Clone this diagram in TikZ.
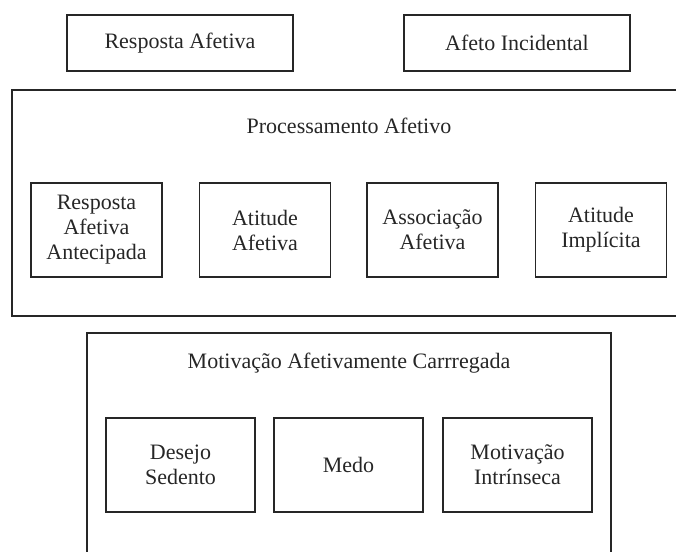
\documentclass[tikz,border=0pt]{standalone}
\usepackage{fontspec}
\setmainfont{Liberation Serif}
\usetikzlibrary{positioning}
\tikzset{
    caixa/.style={draw=black!85, line width=1.2pt, text=black!85, align=center, inner sep=0pt,
        font=\fontsize{22}{25}\selectfont},
    topo/.style={caixa, minimum width=226pt, minimum height=56pt},
    grupo/.style={draw=black!85, line width=1.2pt, inner sep=0pt},
    titulo/.style={text=black!85, anchor=base, inner sep=0pt, font=\fontsize{22}{25}\selectfont},
    proc/.style={caixa, minimum width=131pt, minimum height=94pt},
    motiv/.style={caixa, minimum width=149pt, minimum height=94pt}
}

\begin{document}
\begin{tikzpicture}[x=1pt, y=-1pt]
    \clip (0,0) rectangle (676,551);

    \node[topo]	(RA)	at	(180,43)	{Resposta Afetiva};
    \node[topo]	(AI)	at	(517,43)	{Afeto Incidental};

    % processamento afetivo
    \node[grupo, minimum width=674pt, minimum height=226pt]	(P)	at	(349,203)	{};
    \node[titulo]	(PT)	at	(349,133)	{Processamento Afetivo};
    \node[proc]	(P1)	at	(96.5,230)	{Resposta\\Afetiva\\Antecipada};
    \node[proc]	(P2)	at	(265,230)	{Atitude\\Afetiva};
    \node[proc]	(P3)	at	(432.5,230)	{Associação\\Afetiva};
    \node[proc]	(P4)	at	(601,230)	{Atitude\\Implícita};

    % motivacao
    \node[grupo, minimum width=524pt, minimum height=227pt]	(M)	at	(349,446.5)	{};
    \node[titulo]	(MT)	at	(349,368)	{Motivação Afetivamente Carrregada};
    \node[motiv]	(M1)	at	(180.5,465)	{Desejo\\Sedento};
    \node[motiv]	(M2)	at	(348.5,465)	{Medo};
    \node[motiv]	(M3)	at	(517.5,465)	{Motivação\\Intrínseca};
\end{tikzpicture}
\end{document}
